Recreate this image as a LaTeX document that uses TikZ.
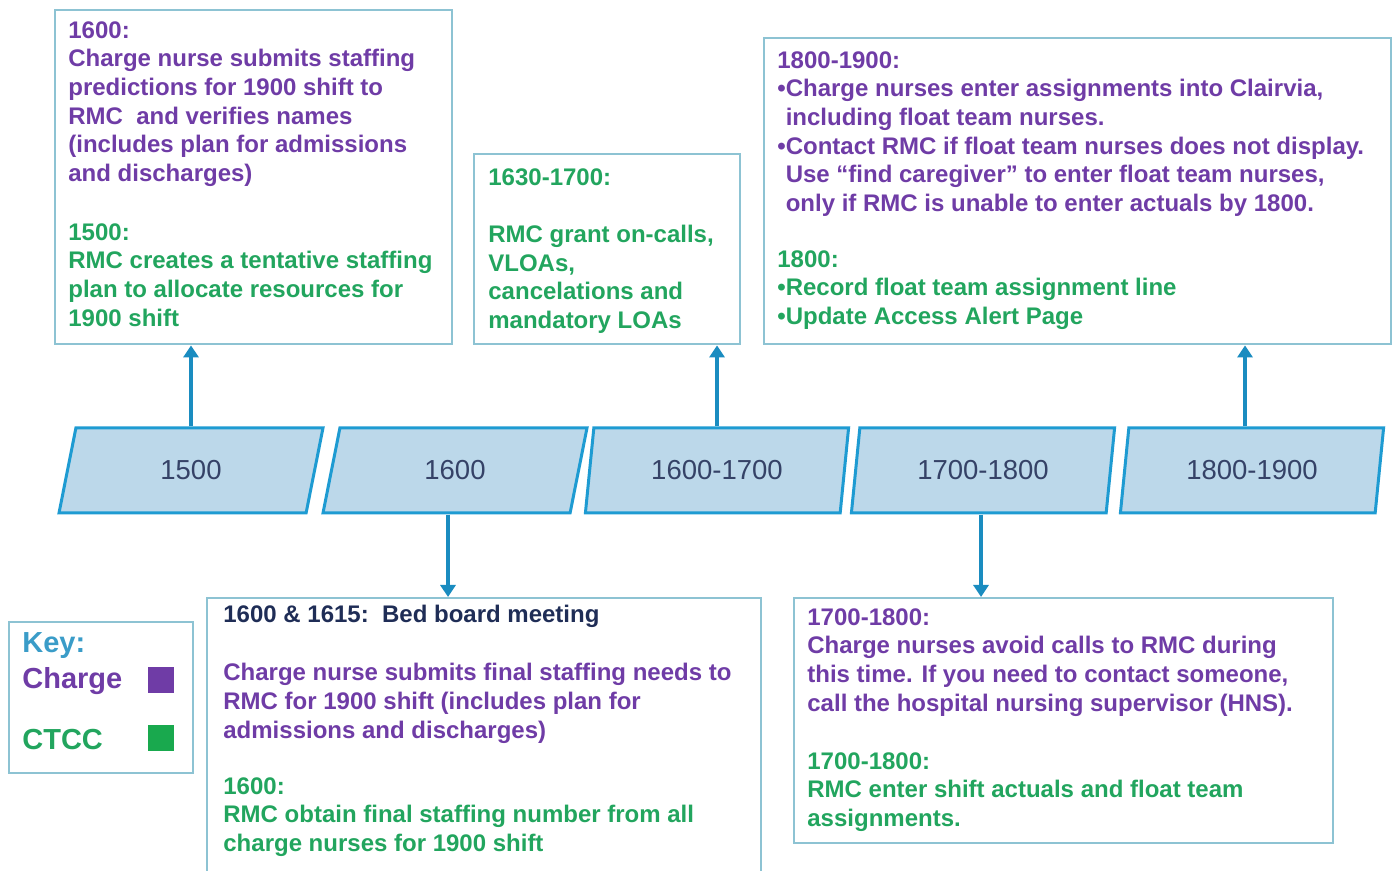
\documentclass[tikz,border=0pt]{standalone}
\usepackage{fontspec}
\setmainfont{Liberation Sans}
\usetikzlibrary{shapes.geometric,arrows.meta}
\definecolor{chg}{HTML}{6F3CA6}
\definecolor{ctc}{HTML}{22A55E}
\definecolor{ctcbox}{HTML}{19A94E}
\definecolor{navy}{HTML}{1F2D56}
\definecolor{slotfill}{HTML}{BCD8EA}
\definecolor{slotline}{HTML}{1E9BD2}
\definecolor{panelline}{HTML}{8DC3D3}
\definecolor{arr}{HTML}{1A8CC0}
\definecolor{keyblue}{HTML}{3A9CC8}

\begin{document}
\begin{tikzpicture}[x=0.5pt,y=-0.5pt,
    slot/.style={trapezium, trapezium left angle=77, trapezium right angle=103,
        trapezium stretches=true, minimum width=132pt, minimum height=42.5pt,
        inner sep=0pt, fill=slotfill, draw=slotline, line width=1.5pt,
        text=navy!90, font=\fontsize{13.75}{16}\selectfont},
    panel/.style={draw=panelline, line width=1.2pt, anchor=north west, inner sep=0pt},
    txt/.style={anchor=north west, align=left, inner sep=0pt,
        font=\bfseries\fontsize{12}{14.35}\selectfont},
    keytxt/.style={anchor=base west, inner sep=0pt,
        font=\bfseries\fontsize{14.5}{17}\selectfont},
    link/.style={draw=arr, line width=2pt, -{Triangle[width=7.5pt,length=6pt]}}]
    \useasboundingbox (0,0) rectangle (1394,871);

    % time slots
    \node[slot] (p1) at (191,470.5) {1500};
    \node[slot] (p2) at (455,470.5) {1600};
    \node[slot] (p3) at (717,470.5) {1600-1700};
    \node[slot] (p4) at (983,470.5) {1700-1800};
    \node[slot] (p5) at (1252,470.5) {1800-1900};

    % frames
    \node[panel, minimum width=198.5pt, minimum height=167pt] (b1) at (54,9) {};
    \node[panel, minimum width=133pt, minimum height=95pt] (b3) at (473,153) {};
    \node[panel, minimum width=313.5pt, minimum height=153pt] (b5) at (763,37) {};
    \node[panel, minimum width=277pt, minimum height=145pt] (b2) at (206,597) {};
    \node[panel, minimum width=269.5pt, minimum height=122.5pt] (b4) at (793,597) {};
    \node[panel, minimum width=92pt, minimum height=75.5pt] (key) at (8,621) {};

    % 1500
    \node[txt, text=chg] (t1a) at (68,21) {1600:\\
        Charge nurse submits staffing\\
        predictions for 1900 shift to\\
        RMC\ \ and verifies names\\
        (includes plan for admissions\\
        and discharges)};
    \node[txt, text=ctc] (t1b) at (68,223) {1500:\\
        RMC creates a tentative staffing\\
        plan to allocate resources for\\
        1900 shift};

    % 1600
    \node[txt, text=navy] (t2h) at (223,605) {1600 \& 1615:\ \ Bed board meeting};
    \node[txt, text=chg] (t2a) at (223,663) {Charge nurse submits final staffing needs to\\
        RMC for 1900 shift (includes plan for\\
        admissions and discharges)};
    \node[txt, text=ctc] (t2b) at (223,777) {1600:\\
        RMC obtain final staffing number from all\\
        charge nurses for 1900 shift};

    % 1600-1700
    \node[txt, text=ctc] (t3) at (488,168) {1630-1700:\\[14.35pt]
        RMC grant on-calls,\\
        VLOAs,\\
        cancelations and\\
        mandatory LOAs};

    % 1700-1800
    \node[txt, text=chg] (t4a) at (807,608) {1700-1800:\\
        Charge nurses avoid calls to RMC during\\
        this time. If you need to contact someone,\\
        call the hospital nursing supervisor (HNS).};
    \node[txt, text=ctc] (t4b) at (807,752) {1700-1800:\\
        RMC enter shift actuals and float team\\
        assignments.};

    % 1800-1900
    \node[txt, text=chg] (t5a) at (777,51) {1800-1900:\\
        •Charge nurses enter assignments into Clairvia,\\
        \phantom{•}including float team nurses.\\
        •Contact RMC if float team nurses does not display.\\
        \phantom{•}Use “find caregiver” to enter float team nurses,\\
        \phantom{•}only if RMC is unable to enter actuals by 1800.};
    \node[txt, text=ctc] (t5b) at (777,250) {1800:\\
        •Record float team assignment line\\
        •Update Access Alert Page};

    % key
    \node[keytxt, text=keyblue] (k0) at (22,653) {Key:};
    \node[keytxt, text=chg] (k1) at (22,689) {Charge};
    \node[keytxt, text=ctc] (k2) at (22,750) {CTCC};
    \node[fill=chg, minimum size=13pt, inner sep=0pt] (s1) at (161,680) {};
    \node[fill=ctcbox, minimum size=13pt, inner sep=0pt] (s2) at (161,738) {};

    % arrows
    \draw[link] (p1.north) -- (p1.north |- b1.south);
    \draw[link] (p3.north) -- (p3.north |- b3.south);
    \draw[link] ([xshift=-3.5pt]p5.north) -- ([xshift=-3.5pt]p5.north |- b5.south);
    \draw[link] ([xshift=-3.5pt]p2.south) -- ([xshift=-3.5pt]p2.south |- b2.north);
    \draw[link] ([xshift=-1pt]p4.south) -- ([xshift=-1pt]p4.south |- b4.north);
\end{tikzpicture}
\end{document}
